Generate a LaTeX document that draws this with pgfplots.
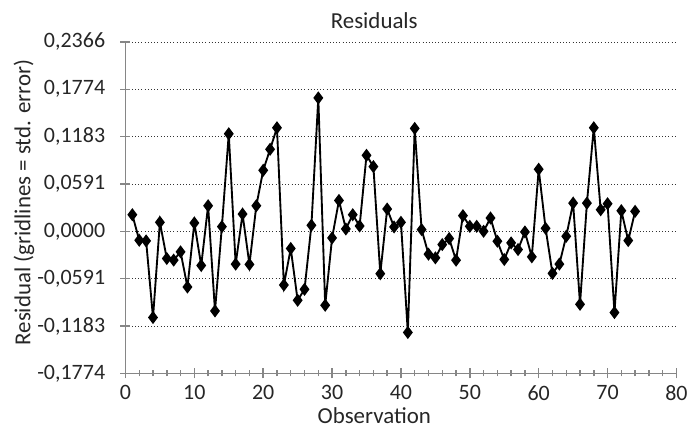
\documentclass[border=0pt]{standalone}
\usepackage{pgfplots}
\pgfplotsset{compat=1.18}
\usepackage{fontspec}
\setmainfont{Carlito}

% residuals, one per observation
\pgfplotstableread{
obs res
1 0.0207
2 -0.0112
3 -0.0120
4 -0.1077
5 0.0112
6 -0.0340
7 -0.0360
8 -0.0257
9 -0.0696
10 0.0104
11 -0.0427
12 0.0319
13 -0.0995
14 0.0058
15 0.1218
16 -0.0410
17 0.0215
18 -0.0414
19 0.0319
20 0.0762
21 0.1024
22 0.1293
23 -0.0671
24 -0.0215
25 -0.0862
26 -0.0725
27 0.0075
28 0.1666
29 -0.0924
30 -0.0083
31 0.0385
32 0.0029
33 0.0207
34 0.0066
35 0.0949
36 0.0808
37 -0.0530
38 0.0278
39 0.0054
40 0.0112
41 -0.1264
42 0.1285
43 0.0021
44 -0.0286
45 -0.0332
46 -0.0166
47 -0.0091
48 -0.0361
49 0.0195
50 0.0062
51 0.0062
52 0.0000
53 0.0166
54 -0.0124
55 -0.0352
56 -0.0145
57 -0.0228
58 -0.0008
59 -0.0319
60 0.0775
61 0.0037
62 -0.0526
63 -0.0410
64 -0.0062
65 0.0352
66 -0.0912
67 0.0352
68 0.1293
69 0.0269
70 0.0344
71 -0.1015
72 0.0257
73 -0.0116
74 0.0249
}\restable

\definecolor{axgray}{RGB}{134,134,134}
\definecolor{txt}{RGB}{38,38,38}

\begin{document}
\begin{tikzpicture}
  \begin{axis}[
    scale only axis,
    width=414pt, height=249pt,
    xmin=0, xmax=80,
    ymin=-0.17742, ymax=0.23656,
    axis x line*=bottom, axis y line*=left,
    axis line style={draw=axgray, line width=1.1pt, -},
    xtick={0,10,...,80},
    minor x tick num=4,
    ytick={-0.17742,-0.11828,-0.05914,0,0.05914,0.11828,0.17742,0.23656},
    yticklabels={{-0,1774},{-0,1183},{-0,0591},{0,0000},{0,0591},{0,1183},{0,1774},{0,2366}},
    /pgf/number format/assume math mode=true,
    tick align=center,
    major tick length=7.5pt,
    minor tick length=4.5pt,
    every tick/.style={draw=axgray, line width=1.1pt},
    ymajorgrids=true,
    major grid style={draw=black!80, dotted, line width=0.6pt},
    tick label style={font=\fontsize{16.5}{19}\selectfont, text=txt},
    xticklabel style={yshift=-2pt},
    yticklabel style={xshift=-8pt},
    clip=false,
  ]
    \addplot[black, line width=1.4pt, mark=diamond*, mark size=3.8pt,
      mark options={solid, fill=black}] table[x=obs, y=res] {\restable};
    % titles, placed where the reference has them
    \node[font=\fontsize{17.2}{20}\selectfont, text=txt]
      at (rel axis cs:0.4516,1.0648) {Residuals};
    \node[font=\fontsize{17.2}{20}\selectfont, text=txt]
      at (rel axis cs:0.4516,-0.1265) {Observation};
    \node[font=\fontsize{17.2}{20}\selectfont, text=txt, rotate=90]
      at (rel axis cs:-0.184,0.515) {Residual (gridlines = std. error)};
    % frame of the whole picture
    \path (rel axis cs:-0.2277,-0.1536) rectangle (rel axis cs:1.0259,1.1265);
  \end{axis}
\end{tikzpicture}
\end{document}
